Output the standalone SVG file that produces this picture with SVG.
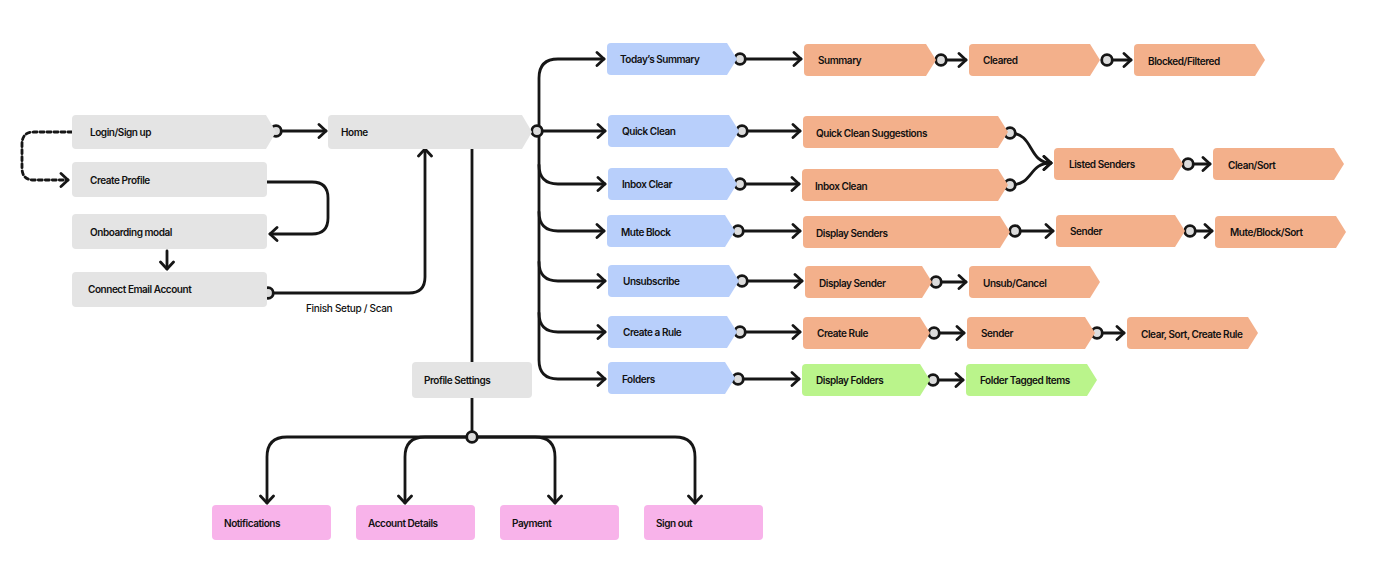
<svg xmlns="http://www.w3.org/2000/svg" width="1376" height="587" viewBox="0 0 1376 587">
<style>
text{font-family:Inter,"Noto Sans","Liberation Sans",sans-serif;font-size:10px;font-weight:600;fill:#111111;letter-spacing:-0.45px;dominant-baseline:central}
text.lbl{font-weight:500;letter-spacing:-0.3px}
.g{fill:#e4e4e4}
.b{fill:#b8cffb}
.o{fill:#f3b08b}
.gr{fill:#baf48b}
.p{fill:#f8b3ea}
.ln{fill:none;stroke:#161616;stroke-width:2.8;stroke-linecap:round;stroke-linejoin:round}
.ar{marker-end:url(#ah)}
.dot{fill:#dcdcdc;stroke:#161616;stroke-width:2.8}
</style>
<defs>
<marker id="ah" markerUnits="userSpaceOnUse" markerWidth="16" markerHeight="16" viewBox="-10 -8 12 16" refX="0" refY="0" orient="auto">
<path d="M-7,-6.5 L0,0 L-7,6.5" fill="none" stroke="#161616" stroke-width="2.8" stroke-linecap="round" stroke-linejoin="round"/>
</marker>
</defs>
<rect width="1376" height="587" fill="#ffffff"/>

<g id="connectors">
<path class="ln" d="M72,132 H34 Q22,132 22,144 V168 Q22,180 34,180 H68" stroke-width="3" stroke-dasharray="4 3" stroke-linecap="butt" marker-end="url(#ah)"/>
<path class="ln ar" d="M276,131 H326"/>
<path class="ln ar" d="M267,182 H312 Q328,182 328,198 V218 Q328,234 312,234 H270"/>
<path class="ln ar" d="M167,251 V269"/>
<path class="ln ar" d="M268,293 H409 Q425,293 425,277 V149"/>
<path class="ln" d="M472,149 V362"/>
<path class="ln" d="M472,398 V432"/>
<path class="ln ar" d="M472,437 H287 Q267,437 267,457 V503"/>
<path class="ln ar" d="M472,437 H425 Q405,437 405,457 V503"/>
<path class="ln ar" d="M472,437 H535 Q555,437 555,457 V503"/>
<path class="ln ar" d="M472,437 H675 Q695,437 695,457 V503"/>
<path class="ln ar" d="M539,131 V78 Q539,59 558,59 H604"/>
<path class="ln ar" d="M537,131 H605"/>
<path class="ln ar" d="M539,131 V360 Q539,379 558,379 H605"/>
<path class="ln ar" d="M539,165 Q539,184 558,184 H605"/>
<path class="ln ar" d="M539,212 Q539,231 558,231 H604"/>
<path class="ln ar" d="M539,262 Q539,281 558,281 H605"/>
<path class="ln ar" d="M539,313 Q539,332 558,332 H605"/>
<path class="ln ar" d="M740,59 H801"/>
<path class="ln ar" d="M742,131 H800"/>
<path class="ln ar" d="M740,184 H799"/>
<path class="ln ar" d="M738,231 H800"/>
<path class="ln ar" d="M742,281 H802"/>
<path class="ln ar" d="M740,332 H800"/>
<path class="ln ar" d="M738,379 H799"/>
<path class="ln ar" d="M941,60 H966"/>
<path class="ln ar" d="M1107,60 H1131"/>
<path class="ln ar" d="M1010,133 C1034,133 1028,163 1051,163"/>
<path class="ln ar" d="M1010,185 C1034,185 1028,163 1051,163"/>
<path class="ln ar" d="M1188,164 H1210"/>
<path class="ln ar" d="M1015,231 H1053"/>
<path class="ln ar" d="M1190,231 H1212"/>
<path class="ln ar" d="M936,282 H966"/>
<path class="ln ar" d="M934,333 H964"/>
<path class="ln ar" d="M1097,333 H1124"/>
<path class="ln ar" d="M933,380 H963"/>
<circle class="dot" cx="276" cy="131" r="5.3"/>
<circle class="dot" cx="537" cy="131" r="5.3"/>
<circle class="dot" cx="268" cy="293" r="5.3"/>
<circle class="dot" cx="472" cy="437" r="5.3"/>
<circle class="dot" cx="740" cy="59" r="5.3"/>
<circle class="dot" cx="742" cy="131" r="5.3"/>
<circle class="dot" cx="740" cy="184" r="5.3"/>
<circle class="dot" cx="738" cy="231" r="5.3"/>
<circle class="dot" cx="742" cy="281" r="5.3"/>
<circle class="dot" cx="740" cy="332" r="5.3"/>
<circle class="dot" cx="738" cy="379" r="5.3"/>
<circle class="dot" cx="941" cy="60" r="5.3"/>
<circle class="dot" cx="1107" cy="60" r="5.3"/>
<circle class="dot" cx="1010" cy="133" r="5.3"/>
<circle class="dot" cx="1010" cy="185" r="5.3"/>
<circle class="dot" cx="1188" cy="164" r="5.3"/>
<circle class="dot" cx="1015" cy="231" r="5.3"/>
<circle class="dot" cx="1190" cy="231" r="5.3"/>
<circle class="dot" cx="936" cy="282" r="5.3"/>
<circle class="dot" cx="934" cy="333" r="5.3"/>
<circle class="dot" cx="1097" cy="333" r="5.3"/>
<circle class="dot" cx="933" cy="380" r="5.3"/>
</g>

<g id="login"><path class="g" d="M76,115 H266 L276,132 L266,149 H76 Q72,149 72,145 V119 Q72,115 76,115 Z"/><text x="90" y="132">Login/Sign up</text></g>
<g id="create-profile"><rect class="g" x="72" y="162" width="195" height="35" rx="4"/><text x="90" y="180">Create Profile</text></g>
<g id="onboarding"><rect class="g" x="72" y="214" width="195" height="35" rx="4"/><text x="90" y="232">Onboarding modal</text></g>
<g id="connect-email"><rect class="g" x="72" y="272" width="195" height="35" rx="4"/><text x="88" y="289">Connect Email Account</text></g>
<g id="finish-label"><text class="lbl" x="306" y="308">Finish Setup / Scan</text></g>
<g id="home"><path class="g" d="M332,115 H522 L532,132 L522,149 H332 Q328,149 328,145 V119 Q328,115 332,115 Z"/><text x="341" y="132">Home</text></g>
<g id="profile-settings"><rect class="g" x="412" y="362" width="120" height="36" rx="4"/><text x="424" y="380">Profile Settings</text></g>
<g id="notifications"><rect class="p" x="212" y="505" width="119" height="35" rx="4"/><text x="224" y="523">Notifications</text></g>
<g id="account-details"><rect class="p" x="356" y="505" width="119" height="35" rx="4"/><text x="368" y="523">Account Details</text></g>
<g id="payment"><rect class="p" x="500" y="505" width="119" height="35" rx="4"/><text x="512" y="523">Payment</text></g>
<g id="sign-out"><rect class="p" x="644" y="505" width="119" height="35" rx="4"/><text x="656" y="523">Sign out</text></g>

<g id="todays-summary"><path class="b" d="M611,43 H727 L737,59 L727,75 H611 Q607,75 607,71 V47 Q607,43 611,43 Z"/><text x="620" y="59">Today’s Summary</text></g>
<g id="quick-clean"><path class="b" d="M612,115 H729 L739,131 L729,147 H612 Q608,147 608,143 V119 Q608,115 612,115 Z"/><text x="622" y="131">Quick Clean</text></g>
<g id="inbox-clear"><path class="b" d="M612,168 H727 L737,184 L727,200 H612 Q608,200 608,196 V172 Q608,168 612,168 Z"/><text x="622" y="184">Inbox Clear</text></g>
<g id="mute-block"><path class="b" d="M611,215 H725 L735,231 L725,247 H611 Q607,247 607,243 V219 Q607,215 611,215 Z"/><text x="621" y="232">Mute Block</text></g>
<g id="unsubscribe"><path class="b" d="M612,265 H729 L739,281 L729,297 H612 Q608,297 608,293 V269 Q608,265 612,265 Z"/><text x="623" y="281">Unsubscribe</text></g>
<g id="create-a-rule"><path class="b" d="M612,316 H727 L737,332 L727,348 H612 Q608,348 608,344 V320 Q608,316 612,316 Z"/><text x="623" y="332">Create a Rule</text></g>
<g id="folders"><path class="b" d="M612,362 H725 L735,378 L725,394 H612 Q608,394 608,390 V366 Q608,362 612,362 Z"/><text x="622" y="379">Folders</text></g>

<g id="summary"><path class="o" d="M808,44 H926 L936,60 L926,76 H808 Q804,76 804,72 V48 Q804,44 808,44 Z"/><text x="818" y="60">Summary</text></g>
<g id="quick-clean-suggestions"><path class="o" d="M807,116 H998 L1008,132 L998,148 H807 Q803,148 803,144 V120 Q803,116 807,116 Z"/><text x="816" y="133">Quick Clean Suggestions</text></g>
<g id="inbox-clean"><path class="o" d="M806,169 H998 L1008,185 L998,201 H806 Q802,201 802,197 V173 Q802,169 806,169 Z"/><text x="815" y="186">Inbox Clean</text></g>
<g id="display-senders"><path class="o" d="M807,216 H1000 L1010,232 L1000,248 H807 Q803,248 803,244 V220 Q803,216 807,216 Z"/><text x="816" y="233">Display Senders</text></g>
<g id="display-sender"><path class="o" d="M809,266 H922 L932,282 L922,298 H809 Q805,298 805,294 V270 Q805,266 809,266 Z"/><text x="819" y="283">Display Sender</text></g>
<g id="create-rule"><path class="o" d="M807,317 H920 L930,333 L920,349 H807 Q803,349 803,345 V321 Q803,317 807,317 Z"/><text x="817" y="333">Create Rule</text></g>
<g id="display-folders"><path class="gr" d="M806,364 H920 L930,380 L920,396 H806 Q802,396 802,392 V368 Q802,364 806,364 Z"/><text x="816" y="380">Display Folders</text></g>

<g id="cleared"><path class="o" d="M973,44 H1090 L1100,60 L1090,76 H973 Q969,76 969,72 V48 Q969,44 973,44 Z"/><text x="983" y="60">Cleared</text></g>
<g id="blocked-filtered"><path class="o" d="M1138,44 H1255 L1265,60 L1255,76 H1138 Q1134,76 1134,72 V48 Q1134,44 1138,44 Z"/><text x="1148" y="61">Blocked/Filtered</text></g>
<g id="listed-senders"><path class="o" d="M1058,148 H1173 L1183,164 L1173,180 H1058 Q1054,180 1054,176 V152 Q1054,148 1058,148 Z"/><text x="1069" y="164">Listed Senders</text></g>
<g id="clean-sort"><path class="o" d="M1217,148 H1334 L1344,164 L1334,180 H1217 Q1213,180 1213,176 V152 Q1213,148 1217,148 Z"/><text x="1228" y="165">Clean/Sort</text></g>
<g id="sender-mute"><path class="o" d="M1060,215 H1175 L1185,231 L1175,247 H1060 Q1056,247 1056,243 V219 Q1056,215 1060,215 Z"/><text x="1070" y="231">Sender</text></g>
<g id="mute-block-sort"><path class="o" d="M1219,216 H1336 L1346,232 L1336,248 H1219 Q1215,248 1215,244 V220 Q1215,216 1219,216 Z"/><text x="1230" y="232">Mute/Block/Sort</text></g>
<g id="unsub-cancel"><path class="o" d="M973,266 H1090 L1100,282 L1090,298 H973 Q969,298 969,294 V270 Q969,266 973,266 Z"/><text x="983" y="283">Unsub/Cancel</text></g>
<g id="sender-rule"><path class="o" d="M971,317 H1085 L1095,333 L1085,349 H971 Q967,349 967,345 V321 Q967,317 971,317 Z"/><text x="981" y="333">Sender</text></g>
<g id="clear-sort-create-rule"><path class="o" d="M1131,317 H1248 L1258,333 L1248,349 H1131 Q1127,349 1127,345 V321 Q1127,317 1131,317 Z"/><text x="1141" y="334">Clear, Sort, Create Rule</text></g>
<g id="folder-tagged-items"><path class="gr" d="M970,364 H1087 L1097,380 L1087,396 H970 Q966,396 966,392 V368 Q966,364 970,364 Z"/><text x="980" y="380">Folder Tagged Items</text></g>
</svg>
